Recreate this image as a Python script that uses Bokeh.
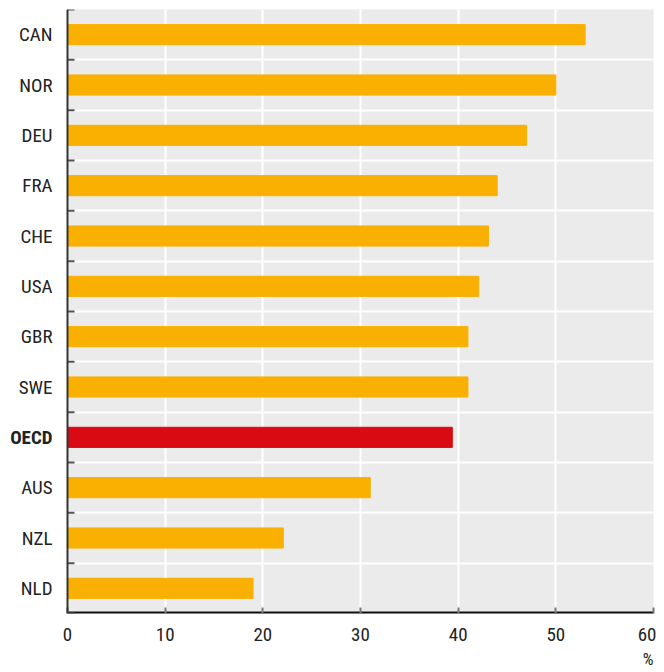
from bokeh.plotting import figure
from bokeh.models import ColumnDataSource, FixedTicker, Range1d, Span, Title
from bokeh.core.properties import value
from bokeh.embed import file_html
from bokeh.resources import INLINE

countries = ["CAN", "NOR", "DEU", "FRA", "CHE", "USA", "GBR", "SWE", "OECD", "AUS", "NZL", "NLD"]
values = [53.0, 50.0, 47.0, 44.0, 43.1, 42.1, 41.0, 41.0, 39.4, 31.0, 22.1, 19.0]
x_ticks = [0, 10, 20, 30, 40, 50, 60]

ORANGE = "#FAB000"
RED = "#DA0A12"
FONT = "'Roboto Condensed', 'DejaVu Sans Condensed', 'Liberation Sans Narrow', 'Arial Narrow', sans-serif"
TXT = "#222222"

n = len(countries)
ypos = [n - 0.5 - i for i in range(n)]
colors = [RED if c == "OECD" else ORANGE for c in countries]
styles = ["bold" if c == "OECD" else "normal" for c in countries]
src = ColumnDataSource(dict(y=ypos, v=values, c=colors, name=countries, st=styles,
                            x0=[0] * n))

XMIN, XMAX = 0, 60
PX_PER_UNIT = 586 / (XMAX - XMIN)
LABEL_W = 59  # pixels left of the value axis reserved for category labels
x_start = XMIN - LABEL_W / PX_PER_UNIT

p = figure(width=656, height=670, output_backend="svg", toolbar_location=None,
           x_range=Range1d(x_start, XMAX), y_range=Range1d(0, n),
           y_axis_location=None,
           min_border_left=8, min_border_right=3, min_border_top=9, min_border_bottom=57)
p.frame_width = 586 + LABEL_W
p.frame_height = 604
p.outline_line_color = None
p.background_fill_color = "white"
p.border_fill_color = "white"

# grey panel
p.quad(left=XMIN, right=XMAX + 0.1, bottom=0, top=n, color="#EBEBEB", level="image")

p.hbar(y="y", right="v", left=0, height=0.4, color="c", source=src)

# x axis
p.xaxis.ticker = FixedTicker(ticks=x_ticks)
p.xaxis.axis_line_color = None
p.xaxis.major_tick_in = 6
p.xaxis.major_tick_out = 0
p.xaxis.major_tick_line_color = "#777777"
p.xaxis.major_tick_line_width = 2
p.xaxis.minor_tick_line_color = None
p.xaxis.major_label_text_font = FONT
p.xaxis.major_label_text_font_size = "19px"
p.xaxis.major_label_text_color = TXT
p.xaxis.major_label_standoff = 14
p.segment(x0=XMIN, x1=XMAX, y0=0, y1=0, line_color="#111111", line_width=4)

# value axis line on the left and boundary ticks
p.add_layout(Span(location=XMIN, dimension="height", line_color="#333333", line_width=2))
p.ray(x=[XMIN] * (n + 1), y=list(range(n + 1)), length=7, length_units="screen", angle=0,
      line_color="#555555", line_width=2)

# category labels
p.text(x="x0", y="y", text="name", source=src, x_offset=-15, text_align="right",
       text_baseline="middle", text_font=value(FONT), text_font_size=value("19px"),
       text_font_style="st", text_color=value(TXT))

# grids
p.xgrid.ticker = FixedTicker(ticks=x_ticks)
p.xgrid.grid_line_color = "white"
p.xgrid.grid_line_width = 2
p.ygrid.ticker = FixedTicker(ticks=list(range(1, n)))
p.ygrid.grid_line_color = "white"
p.ygrid.grid_line_width = 2

# unit label
p.add_layout(Title(text="%", align="right", text_font=FONT, text_font_size="17px",
                   text_font_style="normal", text_color=TXT, standoff=6), "below")

open("out.html", "w").write(file_html(p, INLINE))
